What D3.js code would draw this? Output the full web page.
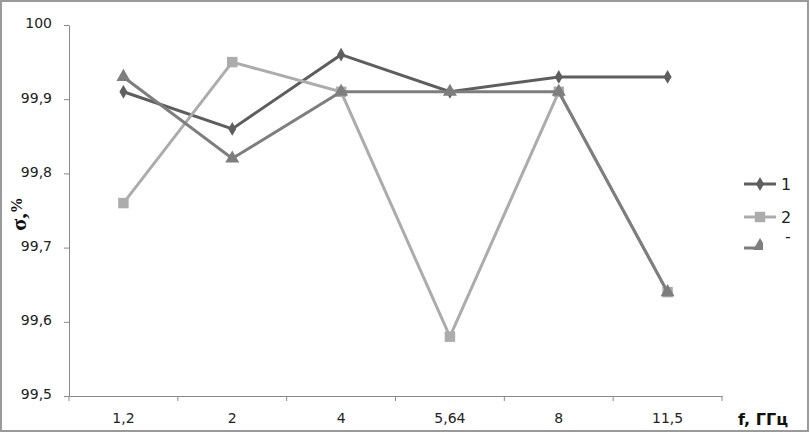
<!DOCTYPE html>
<html>
<head>
<meta charset="utf-8">
<script src="https://cdn.jsdelivr.net/npm/d3@7"></script>
<style>
  body { margin: 0; background: #fff; }
  svg { display: block; }
</style>
</head>
<body>
<svg id="drawing_region"></svg>
<script>
// data
const categories = ['1,2', '2', '4', '5,64', '8', '11,5'];
const series1 = [99.91, 99.86, 99.96, 99.91, 99.93, 99.93];
const series2 = [99.76, 99.95, 99.91, 99.58, 99.91, 99.64];
const series3 = [99.93, 99.82, 99.91, 99.91, 99.91, 99.64];
const yTicks = [99.5, 99.6, 99.7, 99.8, 99.9, 100];
const legendLabels = ['1', '2', '-'];

const width = 811, height = 433;
const margin = {top: 25, right: 89, bottom: 37, left: 69};

const svg = d3.select('#drawing_region')
    .attr('width', width)
    .attr('height', height);

// outer frame
svg.append('rect')
    .attr('x', 1).attr('y', 1)
    .attr('width', 807).attr('height', 430)
    .attr('fill', 'none')
    .attr('stroke', '#9a9a9a')
    .attr('stroke-width', 2);

const xscale = d3.scaleBand()
    .domain(categories)
    .range([margin.left, width - margin.right]);

const yscale = d3.scaleLinear()
    .domain([99.5, 100])
    .range([height - margin.bottom, margin.top]);

const fmt = d => d3.format('.1f')(d).replace('.', ',');

// y axis
const yaxis = svg.append('g')
    .attr('transform', `translate(${margin.left},0)`)
    .call(d3.axisLeft(yscale).tickValues(yTicks).tickFormat(d => d === 100 ? '100' : fmt(d)).tickSize(5).tickPadding(12).tickSizeOuter(0));

// x axis
const xaxis = svg.append('g')
    .attr('transform', `translate(0,${height - margin.bottom})`)
    .call(d3.axisBottom(xscale).tickSize(0).tickPadding(17).tickSizeOuter(0));

// x ticks on the band borders
const borders = categories.map(c => xscale(c)).concat([width - margin.right]);
xaxis.selectAll('line.border')
    .data(borders)
    .join('line')
    .attr('class', 'border')
    .attr('x1', d => d).attr('x2', d => d)
    .attr('y1', 0).attr('y2', 5);

[yaxis, xaxis].forEach(g => {
    g.selectAll('path, line').attr('stroke', '#8a8a8a');
    g.selectAll('text')
        .attr('font-family', 'DejaVu Sans, Verdana, sans-serif')
        .attr('font-size', 14)
        .attr('fill', '#222');
});
yaxis.selectAll('text').attr('dy', '0.2em');

// axis titles
const ylab = svg.append('text')
    .attr('transform', 'translate(26,214) rotate(-90)')
    .attr('text-anchor', 'middle')
    .attr('font-family', 'Liberation Serif, serif')
    .attr('font-weight', 'bold')
    .attr('fill', '#111');
ylab.append('tspan').attr('font-size', 22).text('σ,');
ylab.append('tspan').attr('font-size', 16).attr('dy', -4).text('%');

svg.append('text')
    .attr('x', 738).attr('y', 425)
    .attr('font-family', 'DejaVu Sans, sans-serif')
    .attr('font-weight', 'bold')
    .attr('font-size', 16)
    .attr('fill', '#111')
    .text('f, ГГц');

const series = [
    {values: series1, color: '#5e5e5e', symbol: d3.symbolDiamond, size: 55},
    {values: series2, color: '#acacac', symbol: d3.symbolSquare, size: 110},
    {values: series3, color: '#7e7e7e', symbol: d3.symbolTriangle, size: 85}
];

const cx = c => xscale(c) + xscale.bandwidth() / 2;

const line = d3.line()
    .x((d, i) => cx(categories[i]))
    .y(d => yscale(d));

series.forEach(s => {
    svg.append('path')
        .datum(s.values)
        .attr('d', line)
        .attr('fill', 'none')
        .attr('stroke', s.color)
        .attr('stroke-width', 3);

    svg.selectAll(null)
        .data(s.values)
        .join('path')
        .attr('transform', (d, i) => `translate(${cx(categories[i])},${yscale(d)})`)
        .attr('d', d3.symbol().type(s.symbol).size(s.size))
        .attr('fill', s.color);
});

// legend (third entry is cut off in the original)
svg.append('clipPath').attr('id', 'legclip')
    .append('rect').attr('x', 740).attr('y', 160).attr('width', 23).attr('height', 100);

const legendY = [184, 217, 248];
const legend = svg.append('g');
series.forEach((s, i) => {
    const g = legend.append('g').attr('clip-path', i === 2 ? 'url(#legclip)' : null);
    g.append('line')
        .attr('x1', 744).attr('x2', 776)
        .attr('y1', legendY[i]).attr('y2', legendY[i])
        .attr('stroke', s.color)
        .attr('stroke-width', 3);
    g.append('path')
        .attr('transform', `translate(760,${legendY[i] - (i === 2 ? 2 : 0)})`)
        .attr('d', d3.symbol().type(s.symbol).size(s.size))
        .attr('fill', s.color);
    legend.append('text')
        .attr('x', i === 2 ? 785 : 781)
        .attr('y', legendY[i] + (i === 2 ? -6 : 6))
        .attr('font-family', 'DejaVu Sans, sans-serif')
        .attr('font-size', 16)
        .attr('fill', '#222')
        .text(legendLabels[i]);
});
</script>
</body>
</html>
